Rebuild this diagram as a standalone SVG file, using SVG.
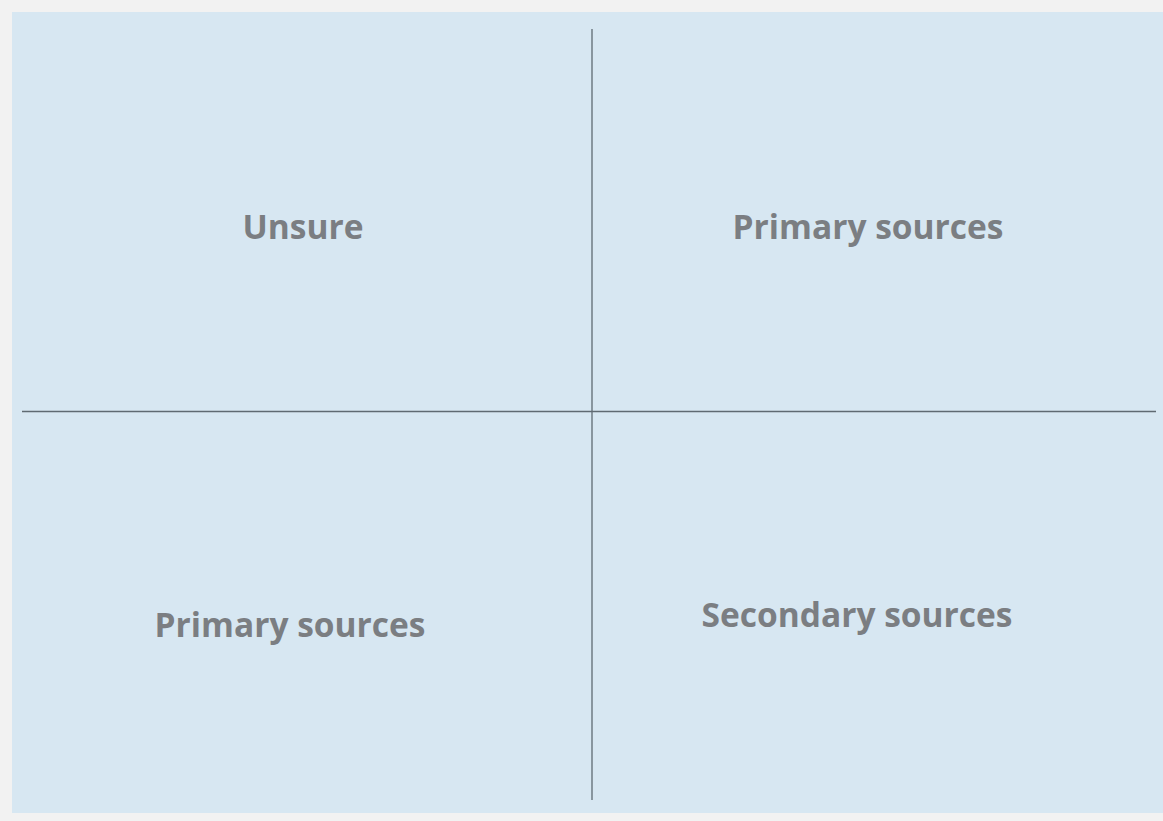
<svg xmlns="http://www.w3.org/2000/svg" width="1163" height="821" viewBox="0 0 1163 821">
<style>
.lbl{font-family:"Open Sans","Liberation Sans",sans-serif;font-weight:700;font-size:33.5px;fill:#7b7e82;text-anchor:middle}
.axis{stroke:#5f6a72;stroke-width:1.3;fill:none}
</style>
<rect x="0" y="0" width="1163" height="821" fill="#f2f2f2"/>
<rect id="panel" x="12" y="12" width="1151" height="801" fill="#d7e7f2"/>
<g id="connectors">
<line class="axis" x1="592" y1="29" x2="592" y2="800"/>
<line class="axis" x1="22" y1="411.5" x2="1156" y2="411.5"/>
</g>
<g id="q-unsure"><text class="lbl" x="303" y="239">Unsure</text></g>
<g id="q-primary-top"><text class="lbl" x="868" y="239">Primary sources</text></g>
<g id="q-primary-bottom"><text class="lbl" x="290" y="637">Primary sources</text></g>
<g id="q-secondary"><text class="lbl" x="857" y="627">Secondary sources</text></g>
</svg>
